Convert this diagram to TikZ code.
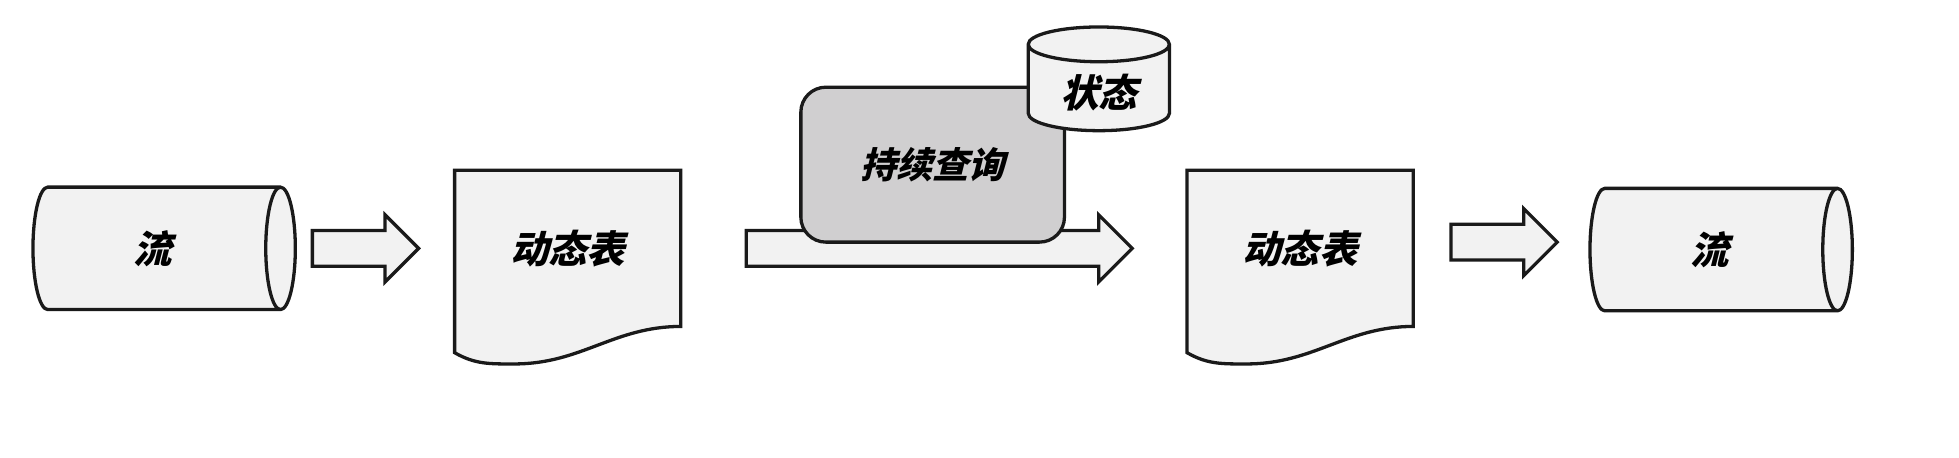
\documentclass[tikz,border=0pt]{standalone}
\usepackage{fontspec}
\newfontfamily\cjk{Noto Sans CJK SC}[FakeSlant=0.25]
\usetikzlibrary{shapes.geometric,shapes.arrows,positioning,backgrounds,calc}
\definecolor{shapefill}{HTML}{F2F2F2}
\definecolor{queryfill}{HTML}{D0CFD0}
\definecolor{edge}{HTML}{1A1A1A}

\begin{document}
\begin{tikzpicture}[
        line width=1.5pt,
        cjktext/.style={font=\cjk\bfseries\fontsize{17.5}{20}\selectfont, text=black},
        streamtube/.style={cylinder, draw=edge, fill=shapefill, shape aspect=0.58, minimum width=1.96cm, minimum height=4.2cm, cjktext},
        tablepage/.style={rectangle, minimum width=3.62cm, minimum height=2.5cm, inner sep=0pt, outer sep=0pt, cjktext},
        querybox/.style={rectangle, rounded corners=0.4cm, draw=edge, fill=queryfill, minimum width=4.22cm, minimum height=2.48cm, cjktext, font=\cjk\bfseries\fontsize{16.5}{19}\selectfont},
        statestore/.style={cylinder, shape border rotate=90, draw=edge, fill=shapefill, shape aspect=0.38, minimum width=2.26cm, minimum height=1.66cm, cjktext},
        flowarrow/.style={single arrow, draw=edge, fill=shapefill, inner xsep=0pt, inner ysep=0.26cm, text height=0pt, text depth=0pt, single arrow head extend=0.25cm, single arrow head indent=0pt, single arrow tip angle=90, minimum height=1.7cm},
        pageline/.style={draw=edge, fill=shapefill, line width=1.5pt, line join=miter},
    ]

    \begin{scope}[on background layer]
        \fill[white] (0,0) rectangle (31.36,7.316);
    \end{scope}
    \useasboundingbox (0,0) rectangle (31.36,7.316);

    % Input stream and first table
    \node[streamtube] (instream) at (2.44,3.34) {流};
    \node[flowarrow, right=0.22cm of instream] (toinput) {};
    \node[tablepage, right=0.54cm of toinput] (intable) {动态表};

    % Continuous query with its state
    \node[flowarrow, minimum height=6.18cm, right=1.02cm of intable] (toquery) {};
    \node[querybox] (query) at (14.93,4.68) {持续查询};
    \node[statestore] (state) at (17.59,5.84) {状态};

    % Output table and stream
    \node[tablepage, right=0.84cm of toquery] (outtable) {动态表};
    \node[flowarrow, right=0.58cm of outtable, yshift=0.1cm] (tooutput) {};
    \node[streamtube, right=0.46cm of tooutput, yshift=-0.12cm] (outstream) {流};

    % Page outlines behind the table labels
    \begin{scope}[on background layer]
        \foreach \page in {intable,outtable}
            \draw[pageline] (\page.north west) -- (\page.north east) -- (\page.south east)
                to[out=180,in=0] ($(\page.south)+(-0.85,-0.6)$)
                to[out=180,in=-30] ($(\page.south west)+(0,-0.42)$) -- cycle;
    \end{scope}

\end{tikzpicture}
\end{document}
